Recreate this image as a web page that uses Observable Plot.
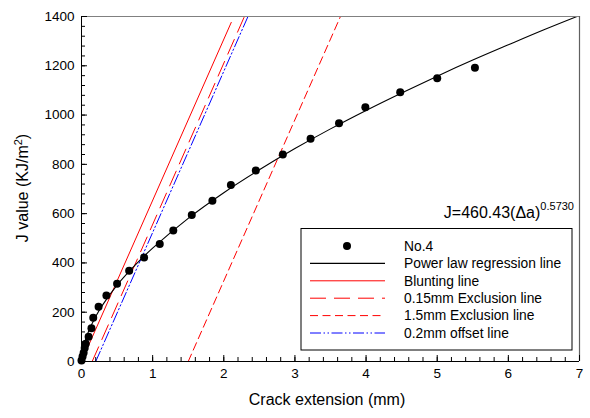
<!DOCTYPE html>
<html><head><meta charset="utf-8">
<script src="https://cdn.jsdelivr.net/npm/d3@7"></script>
<script src="https://cdn.jsdelivr.net/npm/@observablehq/plot@0.6"></script>
<style>
body{margin:0;background:#fff}
#chart{position:relative;width:590px;height:418px}
</style>
</head><body><div id="chart"></div>
<script>
// Measured points (No.4)
const crackExt = [0.0, 0.015, 0.03, 0.045, 0.06, 0.10, 0.14, 0.165, 0.24, 0.35, 0.50, 0.67, 0.88, 1.10, 1.29, 1.55, 1.84, 2.10, 2.45, 2.83, 3.22, 3.62, 3.99, 4.48, 5.00, 5.53];
const jValue   = [4, 20, 36, 55, 72, 100, 135, 178, 222, 268, 316, 368, 422, 477, 532, 595, 652, 716, 775, 840, 904, 967, 1032, 1093, 1149, 1192];

// Power law regression line
const fitX = [0, 0.005, 0.01, 0.02, 0.05, 0.1, 0.2, 0.3, 0.5, 0.75, 1, 1.5, 2, 2.5, 3, 3.5, 4, 4.5, 5, 5.5, 6, 6.5, 7];
const fitJ = [0, 22, 33, 49, 83, 123, 183, 231, 310, 390, 460, 581, 685, 778, 864, 944, 1019, 1090, 1158, 1223, 1285, 1346, 1404];

// Construction lines
const bluntX = [0, 2.105],   bluntJ = [0, 1376];
const excl015X = [0.15, 2.29], excl015J = [0, 1400];
const excl15X = [1.5, 3.64],  excl15J = [0, 1400];
const off02X = [0.2, 2.34],   off02J = [0, 1400];

// Axes
const xTicks = [0, 1, 2, 3, 4, 5, 6, 7];
const yTicks = [0, 200, 400, 600, 800, 1000, 1200, 1400];
const xMinor = d3.range(0, 7.001, 0.2);
const yMinor = d3.range(0, 1400.1, 40);
const xLabel = "Crack extension (mm)";
const yLabelMain = "J value (KJ/m", yLabelSup = "2", yLabelEnd = ")";
const eqMain = "J=460.43(\u0394a)", eqSup = "0.5730";

const legendLabels = ["No.4", "Power law regression line", "Blunting line", "0.15mm Exclusion line", "1.5mm Exclusion line", "0.2mm offset line"];

const FONT = "'Liberation Sans', Arial, Helvetica, sans-serif";
const points = crackExt.map((x, i) => ({x, y: jValue[i]}));
const toRows = (xs, ys) => xs.map((x, i) => ({x, y: ys[i]}));

const W = 590, H = 418, mL = 81, mR = 11, mT = 16, mB = 57;
const pw = W - mL - mR, ph = H - mT - mB;

const styles = {
  blunt: {stroke: "#ff0000", strokeWidth: 1},
  e015: {stroke: "#ff0000", strokeWidth: 1, strokeDasharray: "16,8"},
  e15: {stroke: "#ff0000", strokeWidth: 1, strokeDasharray: "8,4.5"},
  off: {stroke: "#0000ff", strokeWidth: 1, strokeDasharray: "11,2.5,1.5,2.5,1.5,2.5"}
};

const chart = Plot.plot({
  width: W, height: H,
  marginLeft: mL, marginRight: mR, marginTop: mT, marginBottom: mB,
  style: {fontFamily: FONT, fontSize: "13.5px", background: "#fff", color: "#000"},
  x: {domain: [0, 7]},
  y: {domain: [0, 1400]},
  marks: [
    Plot.line(toRows(bluntX, bluntJ), {x: "x", y: "y", ...styles.blunt}),
    Plot.line(toRows(excl015X, excl015J), {x: "x", y: "y", ...styles.e015}),
    Plot.line(toRows(excl15X, excl15J), {x: "x", y: "y", ...styles.e15}),
    Plot.line(toRows(off02X, off02J), {x: "x", y: "y", ...styles.off}),
    Plot.line(toRows(fitX, fitJ), {x: "x", y: "y", stroke: "#000", strokeWidth: 1.1, curve: "catmull-rom", clip: true}),
    Plot.dot(points, {x: "x", y: "y", r: 4, fill: "#000", stroke: "none"}),
    // frame
    Plot.ruleY([1400], {stroke: "#808080", strokeWidth: 1.2}),
    Plot.ruleX([7], {stroke: "#606060", strokeWidth: 1.2}),
    Plot.ruleX([0], {stroke: "#000", strokeWidth: 1}),
    Plot.ruleY([0], {stroke: "#000", strokeWidth: 1}),
    // inward ticks
    Plot.tickX(xMinor, {x: d => d, stroke: "#000", insetTop: ph - 4}),
    Plot.tickX(xTicks, {x: d => d, stroke: "#000", insetTop: ph - 6}),
    Plot.tickY(yMinor, {y: d => d, stroke: "#000", insetRight: pw - 4}),
    Plot.tickY(yTicks, {y: d => d, stroke: "#000", insetRight: pw - 6}),
    Plot.axisX(xTicks, {tickSize: 0, tickPadding: 7, label: null, fontSize: 13.5, tickFormat: d => String(d)}),
    Plot.axisY(yTicks, {tickSize: 0, tickPadding: 7, label: null, fontSize: 13.5, tickFormat: d => String(d)})
  ]
});
document.getElementById("chart").appendChild(chart);

const svg = d3.select(chart);
// axis labels
svg.append("text").attr("x", 327).attr("y", 405).attr("text-anchor", "middle")
  .attr("font-family", FONT).attr("font-size", 16).attr("fill", "#000").text(xLabel);
const yl = svg.append("text").attr("transform", "translate(28,188) rotate(-90)")
  .attr("text-anchor", "middle").attr("font-family", FONT).attr("font-size", 16).attr("fill", "#000");
yl.append("tspan").text(yLabelMain);
yl.append("tspan").attr("font-size", 11).attr("dy", -6).text(yLabelSup);
yl.append("tspan").attr("dy", 6).text(yLabelEnd);

// equation
const eq = svg.append("text").attr("x", 574).attr("y", 218).attr("text-anchor", "end")
  .attr("font-family", FONT).attr("font-size", 16).attr("fill", "#000");
eq.append("tspan").text(eqMain);
eq.append("tspan").attr("font-size", 11).attr("dy", -8).text(eqSup);

// legend
const lg = svg.append("g").attr("font-family", FONT).attr("font-size", 13.8).attr("text-anchor", "start");
lg.append("rect").attr("x", 301).attr("y", 228.5).attr("width", 271).attr("height", 121.5)
  .attr("fill", "#fff").attr("stroke", "#000").attr("stroke-width", 1);
const rowY = i => 246 + i * 17.4;
const legendStyles = [null, {stroke: "#000", strokeWidth: 1.1}, styles.blunt, styles.e015, styles.e15, styles.off];
legendLabels.forEach((lab, i) => {
  const y = rowY(i);
  if (i === 0) {
    lg.append("circle").attr("cx", 347).attr("cy", y).attr("r", 4).attr("fill", "#000");
  } else {
    const s = legendStyles[i];
    lg.append("line").attr("x1", 310).attr("x2", 385).attr("y1", y).attr("y2", y)
      .attr("stroke", s.stroke).attr("stroke-width", s.strokeWidth)
      .attr("stroke-dasharray", s.strokeDasharray || null);
  }
  lg.append("text").attr("x", 404).attr("y", y).attr("dy", "0.35em").attr("text-anchor", "start")
    .attr("fill", "#000").text(lab);
});
</script>
</body></html>
